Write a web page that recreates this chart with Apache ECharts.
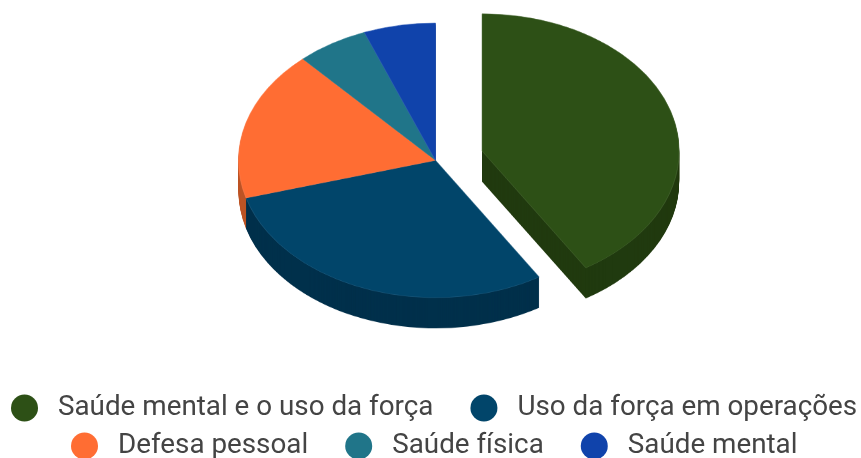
<!DOCTYPE html>
<html>
<head>
<meta charset="utf-8">
<script src="https://cdn.jsdelivr.net/npm/echarts@6/dist/echarts.min.js"></script>
<style>
  html, body { margin: 0; padding: 0; background: #fff; overflow: hidden; }
  #page { position: relative; width: 861px; height: 458px; overflow: hidden; }
  /* the pie is drawn round, then squashed to look tilted */
  #pie { position: absolute; left: 0; top: 0; width: 861px; height: 657px; transform: scaleY(0.697); transform-origin: 0 0; }
  #legend { position: absolute; left: 0; top: 0; width: 861px; height: 458px; }
</style>
</head>
<body>
<div id="page">
  <div id="pie"></div>
  <div id="legend"></div>
</div>
<script>
const categories = ['Saúde mental e o uso da força', 'Uso da força em operações', 'Defesa pessoal', 'Saúde física', 'Saúde mental']
const values = [7, 5, 3, 1, 1]
const topColors = ['#2d5016', '#01456a', '#ff6d33', '#207589', '#1043ab']
const wallColors = ['#203a0f', '#00304b', '#bd5526', '#175766', '#0b307d']
const edgeColors = ['#4a6a34', '#256285', '#ff8250', '#3d8a9d', '#2f5cb8']

const depth = 44 // layers under the top face, before the squash

function pieLayer(level) {
  const isTop = level === 0
  return {
    type: 'pie',
    radius: [0, 197],
    center: [435.5, 230 + level],
    startAngle: 90,
    selectedMode: 'single',
    selectedOffset: 48.5,
    animation: false,
    silent: true,
    label: { show: false },
    labelLine: { show: false },
    emphasis: { disabled: true },
    data: values.map((v, i) => ({
      name: categories[i],
      value: v,
      selected: i === 0,
      itemStyle: {
        color: isTop ? topColors[i] : wallColors[i],
        borderColor: isTop ? edgeColors[i] : wallColors[i],
        borderWidth: isTop ? 0.6 : 0
      }
    }))
  }
}

const layers = []
for (let level = depth; level >= 0; level--) {
  layers.push(pieLayer(level))
}
const pieChart = echarts.init(document.getElementById('pie'))
pieChart.setOption({ series: layers })

function legendRow(names, left, top) {
  return {
    data: names,
    left: left,
    top: top,
    width: 850, // one row only, no wrapping
    orient: 'horizontal',
    icon: 'circle',
    itemWidth: 27,
    itemHeight: 27,
    itemGap: 37,
    padding: 0,
    selectedMode: false,
    textStyle: {
      fontFamily: 'Roboto',
      fontSize: 27.8,
      color: '#444444',
      padding: [0, 0, 0, 15]
    }
  }
}

const legendChart = echarts.init(document.getElementById('legend'))
legendChart.setOption({
  legend: [
    legendRow(categories.slice(0, 2), 11, 394),
    legendRow(categories.slice(2), 71, 432)
  ],
  series: [
    {
      type: 'pie',
      radius: [0, 0],
      animation: false,
      silent: true,
      label: { show: false },
      labelLine: { show: false },
      data: values.map((v, i) => ({ name: categories[i], value: v, itemStyle: { color: topColors[i] } }))
    }
  ]
})
</script>
</body>
</html>
